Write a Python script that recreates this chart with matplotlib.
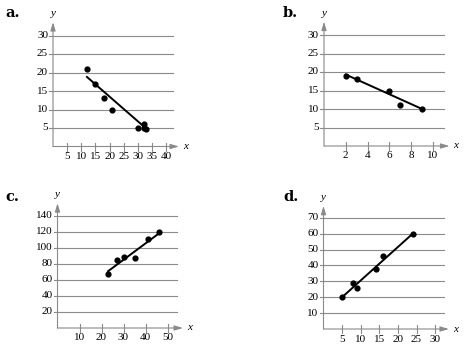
import numpy as np
import matplotlib.pyplot as plt

plt.rcParams['font.family'] = ['Liberation Serif', 'DejaVu Serif']

# panel a
a_x = [12, 15, 18, 21, 30, 32, 32, 33]
a_y = [21, 17, 13, 10, 5, 6, 5, 4.6]
a_line_x = [12, 33]
a_line_y = [18.8, 4.8]
a_xticks = [5, 10, 15, 20, 25, 30, 35, 40]
a_yticks = [5, 10, 15, 20, 25, 30]

# panel b
b_x = [2, 3, 6, 7, 9]
b_y = [19, 18, 15, 11, 10]
b_line_x = [2, 9]
b_line_y = [19.3, 10]
b_xticks = [2, 4, 6, 8, 10]
b_yticks = [5, 10, 15, 20, 25, 30]

# panel c
c_x = [23, 27, 30, 35, 41, 46]
c_y = [67, 85, 89, 87, 111, 120]
c_line_x = [23, 46]
c_line_y = [71, 118]
c_xticks = [10, 20, 30, 40, 50]
c_yticks = [20, 40, 60, 80, 100, 120, 140]

# panel d
d_x = [5, 8, 9, 14, 16, 24]
d_y = [20, 29, 26, 38, 46, 60]
d_line_x = [5, 24]
d_line_y = [20, 60]
d_xticks = [5, 10, 15, 20, 25, 30]
d_yticks = [10, 20, 30, 40, 50, 60, 70]

W, H = 466, 355
fig = plt.figure(figsize=(W / 100, H / 100), dpi=100)
GRAY = '#8a8a8a'


def panel(letter, lpos, ox, oy, sx, sy, xmax, ymax, grid_end, xarrow, yarrow,
          xs, ys, lx, ly, xticks, yticks):
    # axes placed so that data -> pixel mapping matches the reference
    x0 = -6 / sx
    y0 = -6 / sy
    left = (ox + x0 * sx) / W
    bottom = (H - oy + y0 * sy) / H
    width = (xmax - x0) * sx / W
    height = (ymax - y0) * sy / H
    ax = fig.add_axes([left, bottom, width, height])
    ax.set_xlim(x0, xmax)
    ax.set_ylim(y0, ymax)
    ax.axis('off')

    tx = 4 / sx
    ty = 4 / sy
    for yv in yticks:
        ax.plot([0, grid_end], [yv, yv], color=GRAY, lw=0.8, clip_on=False)
        ax.plot([-tx, 0], [yv, yv], color=GRAY, lw=0.8, clip_on=False)
        ax.text(-tx - 1 / sx, yv, str(yv), ha='right', va='center', fontsize=8)
    for xv in xticks:
        ax.plot([xv, xv], [-ty, ty], color=GRAY, lw=0.8, clip_on=False)
        ax.text(xv, -ty - 1.5 / sy, str(xv), ha='center', va='top', fontsize=8)

    ax.annotate('', xy=(xarrow, 0), xytext=(0, 0),
                arrowprops=dict(arrowstyle='-|>,head_length=0.5,head_width=0.15',
                                color=GRAY, lw=0.8, shrinkA=0, shrinkB=0))
    ax.annotate('', xy=(0, yarrow), xytext=(0, 0),
                arrowprops=dict(arrowstyle='-|>,head_length=0.5,head_width=0.15',
                                color=GRAY, lw=0.8, shrinkA=0, shrinkB=0))
    ax.text(xarrow + 4 / sx, 0, 'x', style='italic', ha='left', va='center', fontsize=8)
    ax.text(0, yarrow + 4 / sy, 'y', style='italic', ha='center', va='bottom', fontsize=8)

    ax.plot(lx, ly, color='black', lw=1.4, clip_on=False)
    ax.scatter(xs, ys, s=12, color='black', zorder=3, clip_on=False)

    fig.text(lpos[0] / W, 1 - lpos[1] / H, letter, fontsize=10.5, fontweight='bold',
             ha='left', va='center', family=['DejaVu Serif'])


panel('a.', (5, 13), 53, 146.5, 2.83, 3.7, 46, 37, 42.5, 44.5, 33.6,
      a_x, a_y, a_line_x, a_line_y, a_xticks, a_yticks)
panel('b.', (283, 13), 324, 146, 10.9, 3.7, 12.5, 37, 11.0, 11.5, 33.6,
      b_x, b_y, b_line_x, b_line_y, b_xticks, b_yticks)
panel('c.', (5, 197), 57.5, 328, 2.2, 0.8, 61, 170, 54.3, 57, 156,
      c_x, c_y, c_line_x, c_line_y, c_xticks, c_yticks)
panel('d.', (283, 197), 323.5, 329, 3.72, 1.59, 36, 86, 32.4, 33.7, 77.4,
      d_x, d_y, d_line_x, d_line_y, d_xticks, d_yticks)

fig.savefig('out.png', dpi=100)
